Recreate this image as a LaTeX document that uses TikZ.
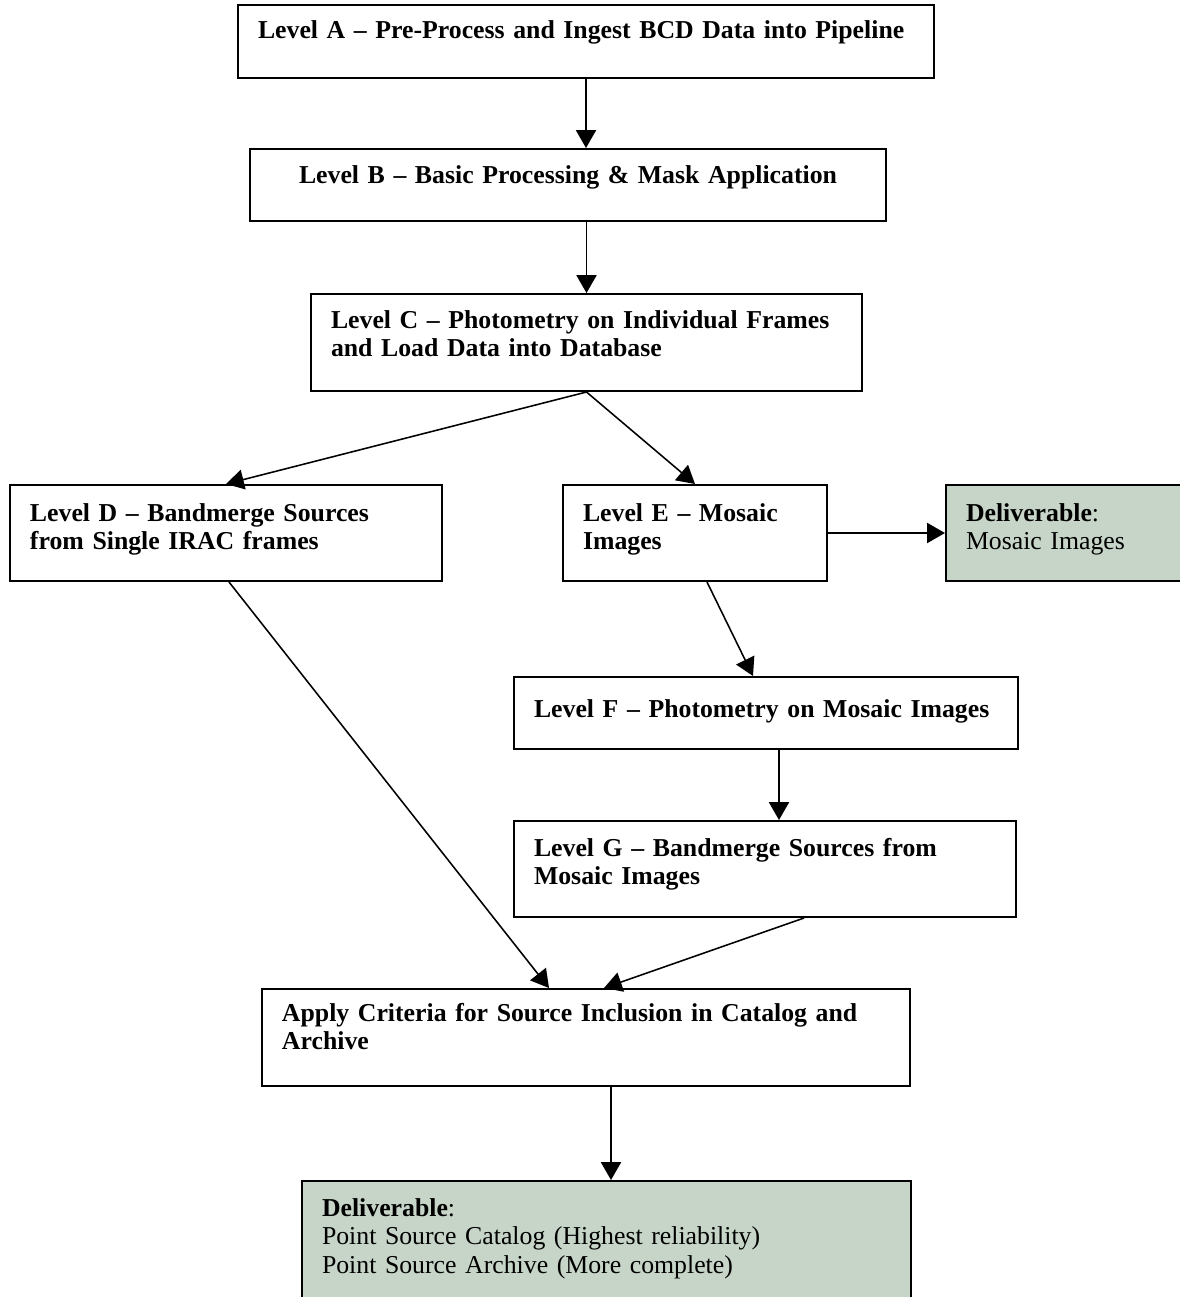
\documentclass[tikz,border=0pt]{standalone}
\usepackage{fontspec}
\setmainfont{Liberation Serif}
\usepackage{tikz}
\usetikzlibrary{shapes.geometric, arrows.meta, calc}
\definecolor{delivgreen}{RGB}{198,213,200}
\tikzstyle{level} = [draw=black, line width=0.9pt, rectangle, anchor=north west, align=left, inner xsep=0pt, inner ysep=0pt, execute at begin node={\leftskip=9pt}, font={\fontsize{11.6}{13}\selectfont\bfseries}]
\tikzstyle{deliverable} = [level, fill=delivgreen, font={\fontsize{11.6}{13}\selectfont}]
\tikzstyle{arrow} = [line width=0.7pt, -{Triangle[length=8pt, width=9pt]}]

\begin{document}
\begin{tikzpicture}[x=0.45pt, y=-0.45pt]
\useasboundingbox (0,0) rectangle (1180,1297);

\node (lvA) [level, text width=313.2pt, text height=14.85pt, text depth=18pt] at (237,4) {Level A -- Pre-Process and Ingest BCD Data into Pipeline};
\node (lvB) [level, execute at begin node={\leftskip=0pt plus 1fil\rightskip=0pt plus 1fil\parfillskip=0pt}, text width=286.2pt, text height=15.3pt, text depth=17.1pt] at (249,148) {Level B -- Basic Processing \& Mask Application};
\node (lvC) [level, text width=247.95pt, text height=15.3pt, text depth=28.35pt] at (310,293) {Level C -- Photometry on Individual Frames\\and Load Data into Database};
\node (lvD) [level, text width=194.4pt, text height=16.2pt, text depth=27pt] at (9,484) {Level D -- Bandmerge Sources\\from Single IRAC frames};
\node (lvE) [level, text width=118.8pt, text height=16.2pt, text depth=27pt] at (562,484) {Level E -- Mosaic\\Images};
\node (dlv1) [deliverable, text width=112pt, text height=16.2pt, text depth=27pt] at (945,484) {\textbf{Deliverable}:\\Mosaic Images};
\node (lvF) [level, text width=226.8pt, text height=18pt, text depth=14.4pt] at (513,676) {Level F -- Photometry on Mosaic Images};
\node (lvG) [level, text width=225.9pt, text height=15.75pt, text depth=27.45pt] at (513,820) {Level G -- Bandmerge Sources from\\Mosaic Images};
\node (crit) [level, text width=291.6pt, text height=14.4pt, text depth=29.25pt] at (261,988) {Apply Criteria for Source Inclusion in Catalog and\\Archive};
\node (dlv2) [deliverable, text width=274.05pt, text height=15.75pt, text depth=38.25pt] at (301,1180) {\textbf{Deliverable}:\\Point Source Catalog (Highest reliability)\\Point Source Archive (More complete)};

\coordinate (fg) at ($(lvF.south)+(13,0)$);
\coordinate (cd) at ($(crit.south)+(25,0)$);

\draw [arrow] (lvA.south) -- (lvA.south |- lvB.north);
\draw [arrow] (lvC.north |- lvB.south) -- (lvC.north);
\draw [arrow] (lvC.south) -- (lvD.north);
\draw [arrow] (lvC.south) -- (lvE.north);
\draw [arrow] (lvE.east) -- (dlv1.west);
\draw [arrow] ($(lvE.south)+(12,0)$) -- ($(lvF.north)+(-13,0)$);
\draw [arrow] (fg) -- (fg |- lvG.north);
\draw [arrow] ($(lvD.south)+(3,0)$) -- ($(crit.north)+(-37,0)$);
\draw [arrow] ($(lvG.south)+(39,0)$) -- ($(crit.north)+(18,0)$);
\draw [arrow] (cd) -- (cd |- dlv2.north);

\end{tikzpicture}
\end{document}
